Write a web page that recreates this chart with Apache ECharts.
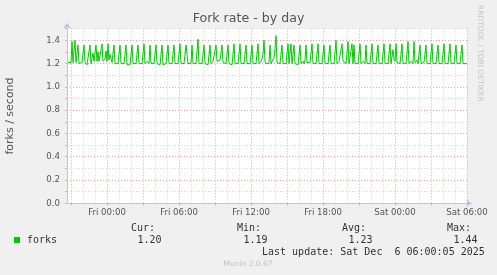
<!DOCTYPE html>
<html>
<head>
<meta charset="utf-8">
<script src="https://cdn.jsdelivr.net/npm/echarts@6/dist/echarts.min.js"></script>
<style>
html,body{margin:0;padding:0;background:#f0f0f0;}
#chart{width:497px;height:275px;}
</style>
</head>
<body>
<div id="chart"></div>
<script>
// ---- data ----
const seriesName = 'forks';
const startHour = -3.25;          // first sample: Thu 20:45, hours relative to Fri 00:00
const stepHours = 5 / 60;         // 5-minute samples
const axisMinHour = -10 / 3;      // Thu 20:40
const axisMaxHour = 30;           // Sat 06:00
const forkRate = [
  1.21,1.21,1.20,1.21,1.39,1.21,
  1.20,1.40,1.21,1.21,1.36,1.20,
  1.21,1.20,1.21,1.22,1.36,1.21,
  1.20,1.19,1.20,1.20,1.36,1.20,
  1.21,1.29,1.22,1.21,1.36,1.22,
  1.30,1.22,1.23,1.21,1.37,1.22,
  1.23,1.24,1.31,1.22,1.37,1.23,
  1.28,1.24,1.21,1.20,1.36,1.20,
  1.20,1.19,1.20,1.20,1.36,1.20,
  1.19,1.20,1.20,1.20,1.36,1.19,
  1.20,1.20,1.19,1.20,1.36,1.20,
  1.20,1.19,1.20,1.20,1.36,1.20,
  1.20,1.20,1.20,1.19,1.37,1.20,
  1.21,1.22,1.21,1.20,1.36,1.20,
  1.20,1.19,1.20,1.20,1.36,1.20,
  1.20,1.20,1.19,1.20,1.36,1.19,
  1.20,1.20,1.20,1.20,1.36,1.20,
  1.19,1.20,1.20,1.20,1.36,1.20,
  1.20,1.20,1.20,1.20,1.37,1.20,
  1.20,1.19,1.20,1.20,1.36,1.37,
  1.20,1.20,1.20,1.20,1.36,1.20,
  1.20,1.19,1.20,1.20,1.41,1.20,
  1.20,1.20,1.20,1.20,1.36,1.20,
  1.20,1.20,1.19,1.20,1.36,1.20,
  1.21,1.22,1.23,1.21,1.36,1.22,
  1.22,1.21,1.23,1.22,1.36,1.21,
  1.22,1.21,1.20,1.20,1.36,1.20,
  1.21,1.20,1.19,1.20,1.37,1.20,
  1.20,1.20,1.20,1.20,1.37,1.20,
  1.20,1.19,1.20,1.20,1.36,1.20,
  1.20,1.20,1.20,1.20,1.36,1.20,
  1.20,1.20,1.20,1.20,1.37,1.20,
  1.21,1.22,1.24,1.28,1.40,1.22,
  1.20,1.20,1.20,1.20,1.36,1.20,
  1.20,1.20,1.25,1.33,1.44,1.21,
  1.20,1.20,1.20,1.20,1.36,1.20,
  1.20,1.20,1.20,1.20,1.37,1.20,
  1.21,1.37,1.20,1.20,1.36,1.20,
  1.20,1.20,1.19,1.20,1.36,1.20,
  1.21,1.22,1.20,1.23,1.36,1.21,
  1.20,1.22,1.21,1.20,1.37,1.20,
  1.20,1.20,1.20,1.20,1.37,1.20,
  1.20,1.19,1.20,1.20,1.36,1.20,
  1.20,1.20,1.20,1.20,1.36,1.20,
  1.20,1.20,1.20,1.20,1.40,1.20,
  1.21,1.22,1.22,1.21,1.37,1.22,
  1.22,1.21,1.20,1.20,1.39,1.20,
  1.20,1.20,1.37,1.20,1.36,1.20,
  1.20,1.20,1.20,1.20,1.37,1.20,
  1.21,1.22,1.21,1.20,1.36,1.20,
  1.20,1.20,1.20,1.20,1.37,1.20,
  1.20,1.19,1.20,1.20,1.36,1.20,
  1.20,1.20,1.20,1.20,1.37,1.20,
  1.20,1.20,1.20,1.19,1.37,1.20,
  1.21,1.32,1.24,1.22,1.37,1.21,
  1.22,1.21,1.20,1.20,1.37,1.20,
  1.20,1.20,1.20,1.20,1.39,1.20,
  1.21,1.22,1.21,1.20,1.39,1.21,
  1.22,1.23,1.20,1.19,1.36,1.20,
  1.20,1.20,1.21,1.20,1.36,1.20,
  1.20,1.21,1.20,1.20,1.37,1.20,
  1.20,1.20,1.20,1.20,1.36,1.20,
  1.20,1.20,1.20,1.20,1.37,1.20,
  1.20,1.20,1.20,1.20,1.37,1.20,
  1.20,1.20,1.20,1.20,1.36,1.20,
  1.20,1.20,1.20,1.20,1.36,1.20,
  1.20,1.20,1.20,1.20
];
const xTickHours = [0, 6, 12, 18, 24, 30];
const xTickLabels = ['Fri 00:00', 'Fri 06:00', 'Fri 12:00', 'Fri 18:00', 'Sat 00:00', 'Sat 06:00'];
const gridHours = [-3,-2,-1,0,1,2,3,4,5,6,7,8,9,10,11,12,13,14,15,16,17,18,19,20,21,22,23,24,25,26,27,28,29,30];
const yMin = 0, yMax = 1.5, yStep = 0.1;
const statLabels = ['Cur:', 'Min:', 'Avg:', 'Max:'];
const statValues = ['1.20', '1.19', '1.23', '1.44'];
const lastUpdate = 'Last update: Sat Dec  6 06:00:05 2025';

// ---- styles ----
const GREEN = '#00cc00';
const MAJOR = '#f0a0a0';
const MINOR = '#d4d4d4';
const AXIS = '#c0c0f0';
const SANS = '"DejaVu Sans", sans-serif';
const MONO = '"DejaVu Sans Mono", monospace';

const chart = echarts.init(document.getElementById('chart'), null, {renderer: 'canvas'});

const lineData = forkRate.map((v, i) => [startHour + i * stepHours, v]);

const statX = [131, 237, 342, 447];
const graphics = [
  {type: 'text', rotation: -Math.PI / 2, x: 484, y: 5,
   style: {text: 'RRDTOOL / TOBI OETIKER', font: '7.5px ' + SANS, fill: '#c4c4c4', textVerticalAlign: 'top'}},
  {type: 'rect', shape: {x: 14, y: 237, width: 6, height: 6}, style: {fill: GREEN}},
  {type: 'text', x: 27, y: 240, style: {text: seriesName, font: '10px ' + MONO, fill: '#333', textVerticalAlign: 'middle'}},
  {type: 'text', x: 262, y: 252, style: {text: lastUpdate, font: '10px ' + MONO, fill: '#333', textVerticalAlign: 'middle'}},
  {type: 'text', x: 248, y: 264, style: {text: 'Munin 2.0.67', font: '7.5px ' + SANS, fill: '#c0c0c0', textAlign: 'center', textVerticalAlign: 'middle'}}
];
statLabels.forEach((s, k) => {
  graphics.push({type: 'text', x: statX[k], y: 228, style: {text: s, font: '10px ' + MONO, fill: '#333', textVerticalAlign: 'middle'}});
  graphics.push({type: 'text', x: statX[k] + 6.5, y: 240, style: {text: statValues[k], font: '10px ' + MONO, fill: '#333', textVerticalAlign: 'middle'}});
});

const option = {
  animation: false,
  backgroundColor: '#f0f0f0',
  title: {
    text: 'Fork rate - by day', left: 'center', top: 12, padding: 0,
    textStyle: {fontFamily: SANS, fontSize: 12.6, fontWeight: 'normal', color: '#555'}
  },
  grid: {
    left: 67, right: 30, top: 28.7, bottom: 71.7,
    containLabel: false, outerBoundsMode: 'none',
    show: true, backgroundColor: '#ffffff', borderWidth: 0
  },
  xAxis: {
    type: 'value', min: axisMinHour, max: axisMaxHour,
    axisLine: {show: true, onZero: false, lineStyle: {color: AXIS, width: 1}, symbol: ['none', 'arrow'], symbolSize: [6, 6], symbolOffset: [0, 5]},
    axisTick: {show: true, customValues: [-3, 0, 3, 6, 9, 12, 15, 18, 21, 24, 27, 30], length: 2, lineStyle: {color: MAJOR}},
    axisLabel: {
      customValues: xTickHours, margin: 5, fontFamily: SANS, fontSize: 8.6, color: '#555',
      formatter: v => { const k = xTickHours.indexOf(Math.round(v)); return k >= 0 ? xTickLabels[k] : ''; }
    },
    splitLine: {show: false}
  },
  yAxis: {
    type: 'value', min: yMin, max: yMax, interval: yStep,
    name: 'forks / second', nameLocation: 'middle', nameRotate: 90, nameGap: 51,
    nameTextStyle: {fontFamily: SANS, fontSize: 11, color: '#555'},
    axisLine: {show: true, onZero: false, lineStyle: {color: AXIS, width: 1}, symbol: ['none', 'arrow'], symbolSize: [6, 6], symbolOffset: [0, 6]},
    axisTick: {show: true, length: 2, lineStyle: {color: '#e0b0b0'}},
    axisLabel: {
      margin: 7, fontFamily: SANS, fontSize: 8.6, color: '#555',
      formatter: v => (Math.round(v * 10) % 2 === 0 ? v.toFixed(1) : '')
    },
    splitLine: {show: true, lineStyle: {color: [MAJOR, MINOR], type: [1, 2], width: 1}}
  },
  graphic: graphics,
  series: [{
    name: seriesName, type: 'line', data: lineData, z: 3,
    showSymbol: false, symbol: 'none', smooth: false,
    lineStyle: {color: GREEN, width: 1}, itemStyle: {color: GREEN},
    markLine: {
      silent: true, symbol: ['none', 'none'], z: 1, label: {show: false},
      lineStyle: {type: [1, 2], width: 1},
      data: gridHours.map(h => ({xAxis: h, lineStyle: {color: h % 3 === 0 ? MAJOR : MINOR, type: [1, 2], width: 1}}))
    }
  }]
};
chart.setOption(option);
</script>
</body>
</html>
